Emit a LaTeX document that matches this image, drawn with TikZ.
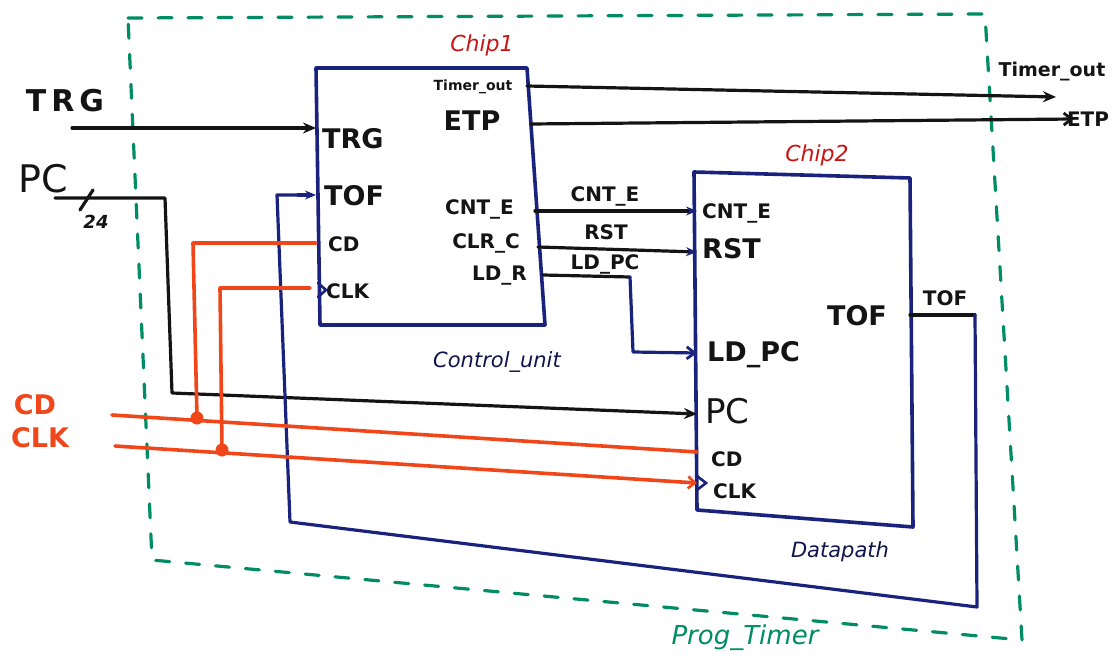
\documentclass[tikz,border=0pt]{standalone}
\usepackage{fontspec}
\setmainfont{DejaVu Sans}
\usetikzlibrary{arrows.meta}
\definecolor{ink}{RGB}{20,20,20}
\definecolor{navy}{RGB}{25,35,125}
\definecolor{wire}{RGB}{240,70,25}
\definecolor{grn}{RGB}{0,140,100}
\definecolor{chipred}{RGB}{200,20,20}
\tikzset{
  box/.style={draw=navy,line width=3.6pt,line join=round},
  wireb/.style={draw=ink,line width=3.2pt,line cap=round},
  wirer/.style={draw=wire,line width=3.6pt,line cap=round},
  wireblue/.style={draw=navy,line width=3.2pt,line cap=round,line join=round},
  arr/.style={-{Stealth[length=13pt,width=11pt]}},
  barb/.style={-{Straight Barb[length=8pt,width=12pt,line width=2.8pt]}},
  pin/.style={font=\bfseries\fontsize{27}{27}\selectfont,text=ink,inner sep=0pt},
  spin/.style={font=\bfseries\fontsize{20}{20}\selectfont,text=ink,inner sep=0pt},
  tpin/.style={font=\bfseries\fontsize{14}{14}\selectfont,text=ink,inner sep=0pt},
  chiplbl/.style={font=\itshape\fontsize{22}{22}\selectfont,text=chipred,inner sep=0pt},
  redlbl/.style={font=\bfseries\fontsize{27}{27}\selectfont,text=wire,inner sep=0pt},
  blklbl/.style={font=\itshape\fontsize{21}{21}\selectfont,text=navy!60!black,inner sep=0pt},
  dot/.style={circle,fill=wire,inner sep=0pt,minimum size=13pt}
}
\begin{document}
\begin{tikzpicture}[x=1pt,y=-1pt]
\useasboundingbox (0,0) rectangle (1113,663);
% Prog_Timer dashed boundary
\draw[grn,line width=3.2pt,dash pattern=on 14pt off 16pt,line cap=round]
  (128,18) -- (985,14) -- (1022,640) -- (152,560) -- cycle;
\node[font=\itshape\fontsize{26}{26}\selectfont,text=grn,inner sep=0pt] (ptl) at (745,638) {Prog\_Timer};

% Control unit box
\coordinate (cuTL) at (316,68);
\draw[box] (cuTL) -- (527,68) -- (545,325) -- (320,325) -- cycle;
\node[chiplbl] (chip1) at (482,45) {Chip1};
\node[blklbl] (cul) at (497,362) {Control\_unit};

% Datapath box
\coordinate (dpTL) at (694,172);
\draw[box] (dpTL) -- (910,178) -- (913,527) -- (697,510) -- cycle;
\node[chiplbl] (chip2) at (817,155) {Chip2};
\node[blklbl] (dpl) at (840,552) {Datapath};

% control unit pins
\node[tpin] (cuTo) at (473,87) {Timer\_out};
\node[pin] (cuETP) at (472,121) {ETP};
\node[pin,anchor=west] (cuTRG) at (322,139) {TRG};
\node[pin,anchor=west] (cuTOF) at (324,196) {TOF};
\node[spin,anchor=west] (cuCD) at (328,244) {CD};
\node[spin,anchor=west] (cuCLK) at (326,291) {CLK};
\node[spin,anchor=east] (cuCNT) at (514,209) {CNT\_E};
\node[spin,anchor=east] (cuCLR) at (520,243) {CLR\_C};
\node[spin,anchor=east] (cuLD) at (527,276) {LD\_R};
\draw[navy,line width=2.6pt,line cap=round] (318,283) -- (326,290) -- (318,297);

% datapath pins
\node[spin,anchor=west] (dpCNT) at (702,213) {CNT\_E};
\node[pin,anchor=west] (dpRST) at (702,249) {RST};
\node[pin,anchor=west] (dpLD) at (707,355) {LD\_PC};
\node[font=\fontsize{34}{34}\selectfont,text=ink,inner sep=0pt,anchor=west] (dpPC) at (705,411) {PC};
\node[spin,anchor=west] (dpCD) at (711,459) {CD};
\node[spin,anchor=west] (dpCLK) at (713,491) {CLK};
\node[pin] (dpTOF) at (857,316) {TOF};
\draw[navy,line width=2.6pt,line cap=round] (697,476) -- (706,483) -- (697,490);

% external labels
\node[font=\bfseries\fontsize{30}{30}\selectfont,text=ink,inner sep=0pt] (xTRG) at (65,101) {T\,R\,G};
\node[font=\fontsize{38}{38}\selectfont,text=ink,inner sep=0pt] (xPC) at (43,179) {PC};
\node[font=\itshape\bfseries\fontsize{18}{18}\selectfont,text=ink,inner sep=0pt] (x24) at (96,222) {24};
\node[redlbl] (xCD) at (35,405) {CD};
\node[redlbl] (xCLK) at (40,438) {CLK};
\node[font=\bfseries\fontsize{19}{19}\selectfont,text=ink,inner sep=0pt] (xTo) at (1052,72) {Timer\_out};
\node[spin] (xETP) at (1088,119) {ETP};
\node[spin] (lCNT) at (605,196) {CNT\_E};
\node[spin] (lRST) at (606,232) {RST};
\node[spin] (lLD) at (605,264) {LD\_PC};
\node[spin] (lTOF) at (945,298) {TOF};

% coordinates for wires
\coordinate (trgIn) at (72,128);
\coordinate (cuTRGp) at (316,128);
\coordinate (cuToP) at (527,86);
\coordinate (toOut) at (1056,97);
\coordinate (cuETPp) at (531,124);
\coordinate (etpOut) at (1074,119);
\coordinate (cuCNTp) at (535,211);
\coordinate (dpCNTp) at (697,211);
\coordinate (cuCLRp) at (538,247);
\coordinate (dpRSTp) at (697,252);
\coordinate (cuLDp) at (543,275);
\coordinate (dpLDp) at (697,353);
\coordinate (pcIn) at (55,198);
\coordinate (dpPCp) at (697,414);
\coordinate (cdIn) at (112,415);
\coordinate (dpCDp) at (697,452);
\coordinate (clkIn) at (115,446);
\coordinate (dpCLKp) at (697,483);
\coordinate (cuCDp) at (316,243);
\coordinate (cuCLKp) at (310,288);
\coordinate (dpTOFp) at (910,315);
\coordinate (cuTOFp) at (316,195);

% outputs
\draw[wireb,arr] (cuToP) -- (toOut);
\draw[wireb,barb] (cuETPp) -- (etpOut);
\draw[wireb,arr] (trgIn) -- (cuTRGp);
\draw[wireb,-{Stealth[length=11pt,width=9pt,color=navy]}] (cuCNTp) -- (dpCNTp);
\draw[wireb,-{Stealth[length=11pt,width=9pt,color=navy]}] (cuCLRp) -- (dpRSTp);
\draw[wireb] (cuLDp) -- (630,277);
\draw[wireblue,barb] (630,277) -- (633,352) -- (dpLDp);

% PC bus
\draw[wireb,line join=round,arr] (pcIn) -- (165,198) -- (172,393) -- (dpPCp);
\draw[wireb] (80,210) -- (93,190);

% TOF feedback
\draw[wireb] (dpTOFp) -- (975,315);
\draw[wireblue] (975,315) -- (977,607) -- (290,522) -- (277,195) -- (298,195);
\draw[wireblue,-{Stealth[length=11pt,width=9pt]}] (298,195) -- (cuTOFp);

% CD / CLK
\draw[wirer] (cdIn) -- (dpCDp);
\draw[wirer,-{Straight Barb[length=7pt,width=12pt,line width=2.6pt]}] (clkIn) -- (dpCLKp);
\draw[wirer,line join=round] (cuCDp) -- (193,243) -- (197,418);
\draw[wirer,line join=round] (cuCLKp) -- (220,288) -- (222,450);
\node[dot] (j1) at (197,418) {};
\node[dot] (j2) at (222,450) {};
\end{tikzpicture}
\end{document}
